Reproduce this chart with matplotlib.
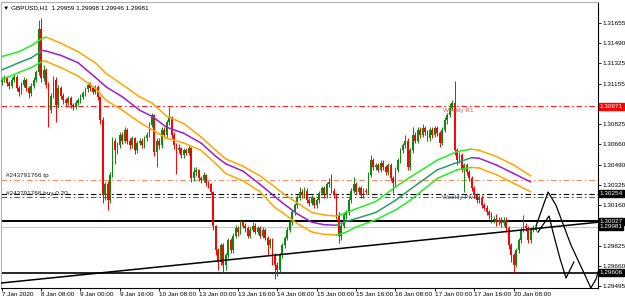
import matplotlib
matplotlib.use("Agg")
import matplotlib.pyplot as plt
import numpy as np

# GBPUSD H1 bars, 7 Jan 2020 .. 20 Jan 2020 (open of each bar = previous close)
first_open = 1.3117
closes = [
    1.3119, 1.3120, 1.3116, 1.3114, 1.3119, 1.3121, 1.3112, 1.3109, 1.3115, 1.3119, 1.3112, 1.3108,
    1.3114, 1.3119, 1.3125, 1.3161, 1.3120, 1.3127, 1.3115, 1.3094, 1.3106, 1.3119, 1.3098, 1.3112,
    1.3106, 1.3102, 1.3100, 1.3104, 1.3098, 1.3097, 1.3100, 1.3102, 1.3105, 1.3108, 1.3111, 1.3115,
    1.3112, 1.3109, 1.3113, 1.3105, 1.3086, 1.3024, 1.3033, 1.3020, 1.3041, 1.3069, 1.3061, 1.3065,
    1.3074, 1.3069, 1.3078, 1.3069, 1.3065, 1.3071, 1.3061, 1.3067, 1.3069, 1.3065, 1.3071, 1.3074,
    1.3082, 1.3090, 1.3060, 1.3069, 1.3065, 1.3078, 1.3074, 1.3084, 1.3088, 1.3074, 1.3065, 1.3061,
    1.3063, 1.3057, 1.3061, 1.3059, 1.3063, 1.3038, 1.3043, 1.3045, 1.3038, 1.3037, 1.3041, 1.3034,
    1.3033, 1.3027, 1.2999, 1.2979, 1.2969, 1.2983, 1.2967, 1.2975, 1.2987, 1.2979, 1.2991, 1.2997,
    1.2994, 1.3002, 1.2999, 1.2997, 1.2991, 1.2996, 1.2999, 1.2994, 1.2997, 1.2991, 1.2996, 1.2989,
    1.2983, 1.2987, 1.2975, 1.2967, 1.2963, 1.2975, 1.2983, 1.2989, 1.2996, 1.3002, 1.3010, 1.3016,
    1.3022, 1.3027, 1.3024, 1.3028, 1.3020, 1.3018, 1.3022, 1.3016, 1.3020, 1.3026, 1.3030, 1.3024,
    1.3033, 1.3035, 1.3028, 1.3024, 1.3008, 1.2991, 1.2999, 1.3008, 1.3010, 1.3020, 1.3028, 1.3033,
    1.3027, 1.3030, 1.3024, 1.3028, 1.3027, 1.3041, 1.3053, 1.3047, 1.3049, 1.3045, 1.3051, 1.3047,
    1.3043, 1.3049, 1.3038, 1.3034, 1.3045, 1.3053, 1.3061, 1.3065, 1.3069, 1.3047, 1.3061, 1.3074,
    1.3069, 1.3078, 1.3074, 1.3079, 1.3076, 1.3071, 1.3078, 1.3074, 1.3079, 1.3075, 1.3067, 1.3078,
    1.3086, 1.3090, 1.3096, 1.3100, 1.3061, 1.3053, 1.3057, 1.3045, 1.3049, 1.3043, 1.3038, 1.3030,
    1.3024, 1.3020, 1.3022, 1.3016, 1.3014, 1.3010, 1.3008, 1.3004, 1.3005, 1.3002, 1.3004, 1.3001,
    1.3004, 1.2997, 1.2983, 1.2975, 1.2967, 1.2979, 1.2987, 1.2996, 1.2999, 1.2997, 1.2987, 1.2996,
    1.29959, 1.29981,
]
highs = [
    1.3121, 1.3123, 1.3122, 1.3118, 1.3121, 1.3124, 1.3123, 1.3114, 1.3117, 1.3121, 1.3120, 1.3114,
    1.3116, 1.3121, 1.3127, 1.3168, 1.3170, 1.3131, 1.3129, 1.3117, 1.3108, 1.3122, 1.3121, 1.3115,
    1.3114, 1.3108, 1.3104, 1.3106, 1.3106, 1.3100, 1.3102, 1.3104, 1.3107, 1.3110, 1.3113, 1.3117,
    1.3117, 1.3114, 1.3115, 1.3115, 1.3106, 1.3088, 1.3035, 1.3036, 1.3043, 1.3072, 1.3071, 1.3068,
    1.3076, 1.3076, 1.3080, 1.3079, 1.3071, 1.3073, 1.3072, 1.3069, 1.3071, 1.3071, 1.3073, 1.3076,
    1.3084, 1.3092, 1.3091, 1.3071, 1.3071, 1.3080, 1.3080, 1.3086, 1.3097, 1.3089, 1.3076, 1.3067,
    1.3066, 1.3064, 1.3063, 1.3063, 1.3065, 1.3064, 1.3047, 1.3047, 1.3046, 1.3040, 1.3043, 1.3042,
    1.3036, 1.3034, 1.3028, 1.3000, 1.2981, 1.2985, 1.2985, 1.2977, 1.2989, 1.2989, 1.2993, 1.3000,
    1.2999, 1.3004, 1.3004, 1.3001, 1.2999, 1.2998, 1.3002, 1.3001, 1.2999, 1.2999, 1.2998, 1.2997,
    1.2991, 1.2989, 1.2989, 1.2977, 1.2969, 1.2977, 1.2985, 1.2991, 1.2998, 1.3004, 1.3012, 1.3018,
    1.3024, 1.3031, 1.3029, 1.3031, 1.3030, 1.3022, 1.3024, 1.3023, 1.3022, 1.3028, 1.3032, 1.3032,
    1.3035, 1.3038, 1.3042, 1.3030, 1.3026, 1.3010, 1.3001, 1.3010, 1.3012, 1.3022, 1.3030, 1.3039,
    1.3035, 1.3032, 1.3032, 1.3030, 1.3030, 1.3043, 1.3057, 1.3055, 1.3051, 1.3051, 1.3053, 1.3053,
    1.3049, 1.3051, 1.3051, 1.3040, 1.3047, 1.3055, 1.3063, 1.3067, 1.3074, 1.3071, 1.3063, 1.3080,
    1.3076, 1.3080, 1.3080, 1.3083, 1.3081, 1.3078, 1.3080, 1.3080, 1.3081, 1.3081, 1.3077, 1.3080,
    1.3088, 1.3092, 1.3100, 1.3102, 1.3118, 1.3063, 1.3060, 1.3059, 1.3051, 1.3051, 1.3045, 1.3040,
    1.3032, 1.3026, 1.3024, 1.3024, 1.3018, 1.3016, 1.3012, 1.3010, 1.3007, 1.3009, 1.3006, 1.3006,
    1.3006, 1.3006, 1.2999, 1.2985, 1.2977, 1.2981, 1.2989, 1.2998, 1.3008, 1.3001, 1.2999, 1.2998,
    1.3000, 1.29998,
]
lows = [
    1.3115, 1.3117, 1.3114, 1.3111, 1.3112, 1.3117, 1.3110, 1.3106, 1.3107, 1.3113, 1.3110, 1.3104,
    1.3106, 1.3112, 1.3117, 1.3123, 1.3117, 1.3118, 1.3112, 1.3080, 1.3092, 1.3104, 1.3084, 1.3096,
    1.3103, 1.3099, 1.3097, 1.3098, 1.3096, 1.3094, 1.3095, 1.3098, 1.3100, 1.3103, 1.3106, 1.3109,
    1.3110, 1.3107, 1.3107, 1.3102, 1.3083, 1.3018, 1.3020, 1.3012, 1.3018, 1.3039, 1.3050, 1.3058,
    1.3063, 1.3066, 1.3067, 1.3066, 1.3062, 1.3063, 1.3058, 1.3059, 1.3065, 1.3063, 1.3063, 1.3069,
    1.3072, 1.3080, 1.3056, 1.3047, 1.3062, 1.3063, 1.3071, 1.3072, 1.3082, 1.3071, 1.3062, 1.3042,
    1.3059, 1.3055, 1.3055, 1.3057, 1.3057, 1.3035, 1.3036, 1.3040, 1.3036, 1.3034, 1.3035, 1.3032,
    1.3030, 1.3025, 1.2996, 1.2975, 1.2963, 1.2967, 1.2961, 1.2963, 1.2973, 1.2977, 1.2977, 1.2989,
    1.2991, 1.2992, 1.2997, 1.2994, 1.2989, 1.2989, 1.2994, 1.2992, 1.2992, 1.2989, 1.2989, 1.2987,
    1.2975, 1.2981, 1.2967, 1.2955, 1.2958, 1.2961, 1.2973, 1.2981, 1.2987, 1.2994, 1.3000, 1.3008,
    1.3014, 1.3020, 1.3022, 1.3022, 1.3018, 1.3015, 1.3016, 1.3014, 1.3014, 1.3018, 1.3024, 1.3022,
    1.3022, 1.3031, 1.3026, 1.3022, 1.3005, 1.2985, 1.2987, 1.2997, 1.3005, 1.3008, 1.3018, 1.3026,
    1.3025, 1.3025, 1.3022, 1.3022, 1.3025, 1.3025, 1.3039, 1.3045, 1.3045, 1.3043, 1.3043, 1.3045,
    1.3041, 1.3041, 1.3036, 1.3026, 1.3032, 1.3043, 1.3051, 1.3059, 1.3063, 1.3045, 1.3045, 1.3059,
    1.3067, 1.3067, 1.3071, 1.3072, 1.3074, 1.3069, 1.3069, 1.3071, 1.3072, 1.3073, 1.3064, 1.3065,
    1.3076, 1.3083, 1.3088, 1.3094, 1.3057, 1.3049, 1.3051, 1.3043, 1.3027, 1.3041, 1.3036, 1.3028,
    1.3022, 1.3018, 1.3018, 1.3014, 1.3012, 1.3008, 1.3005, 1.3001, 1.3001, 1.2999, 1.3000, 1.2998,
    1.2999, 1.2994, 1.2980, 1.2969, 1.2961, 1.2965, 1.2977, 1.2985, 1.2994, 1.2995, 1.2985, 1.2985,
    1.2994, 1.29946,
]

# moving average envelope (read at these bar positions)
ma_x = [0, 7, 12, 16.5, 18, 24, 31, 38, 42.5, 49, 56, 61, 67, 74, 81, 87, 91, 98, 105,
        111, 114, 120, 126, 131, 136, 139, 144, 152, 160, 166, 177, 185, 191, 194, 201, 208, 215]
ma_upper = [1.3138, 1.3142, 1.3147, 1.3153, 1.3154, 1.3149, 1.3142, 1.3133, 1.3124, 1.3115,
            1.3105, 1.3100, 1.3089, 1.3083, 1.3072, 1.3061, 1.3054, 1.3048, 1.3040, 1.3031,
            1.3026, 1.3018, 1.3010, 1.3008, 1.3007, 1.3009, 1.3013, 1.3019, 1.3031, 1.3039,
            1.3053, 1.3060, 1.3062, 1.3061, 1.3056, 1.3049, 1.3040]
ma_mid = [1.3127, 1.3133, 1.3137, 1.3143, 1.31425, 1.3139, 1.3133, 1.3121, 1.3113, 1.3105,
          1.3094, 1.3089, 1.3080, 1.3075, 1.3067, 1.3056, 1.3050, 1.3044, 1.3033, 1.3023,
          1.3018, 1.3009, 1.3002, 1.3000, 1.29995, 1.3002, 1.3005, 1.3010, 1.3020, 1.3029,
          1.3045, 1.3051, 1.3055, 1.30545, 1.3049, 1.3042, 1.3035]
ma_lower = [1.3119, 1.3125, 1.3129, 1.3134, 1.3134, 1.3129, 1.3122, 1.3112, 1.3102, 1.3094,
            1.3084, 1.3078, 1.3071, 1.3067, 1.3061, 1.3050, 1.3042, 1.3036, 1.3027, 1.3014,
            1.3010, 1.3001, 1.2994, 1.2992, 1.29915, 1.2993, 1.2998, 1.3004, 1.3012, 1.3020,
            1.3038, 1.3045, 1.3047, 1.30465, 1.3041, 1.3034, 1.3027]

# levels
weekly_r1 = 1.30971
tp_level = 1.30366
buy_level = 1.30254
weekly_pivot = 1.30227
res_level = 1.30027
bid_level = 1.29981
sup_level = 1.29606
trend_x = [-0.7, 242.3]
trend_y = [1.2952, 1.3002]

# hand drawn arrows
draw_a_x = [217.1, 222.0, 225.2, 231.3, 237.0, 239.4, 241.5, 243.5]
draw_a_y = [1.29989, 1.30268, 1.30161, 1.29833, 1.29586, 1.29480, 1.29554, 1.29693]
draw_b_x = [217.9, 222.4, 224.0, 226.8, 229.3, 230.5, 232.5]
draw_b_y = [1.29939, 1.30071, 1.29939, 1.29726, 1.29562, 1.29611, 1.29693]

price_ticks = [1.31655, 1.31490, 1.31325, 1.31155, 1.30825, 1.30660, 1.30490,
               1.30325, 1.30160, 1.29825, 1.29660, 1.29495]
time_ticks = [0, 16, 32, 48, 64, 80, 96, 112, 128, 144, 160, 176, 192, 208]
time_labels = ["7 Jan 2020", "8 Jan 08:00", "9 Jan 00:00", "9 Jan 16:00", "10 Jan 08:00",
               "13 Jan 00:00", "13 Jan 16:00", "14 Jan 08:00", "15 Jan 00:00", "15 Jan 16:00",
               "16 Jan 08:00", "17 Jan 00:00", "17 Jan 16:00", "20 Jan 08:00"]

plt.rcParams['font.family'] = ['Liberation Sans', 'DejaVu Sans']
fs = 4.6
fig = plt.figure(figsize=(6.25, 3.03), dpi=100)
ax = fig.add_axes([1 / 625, 15 / 303, 597 / 625, 286 / 303])

# candles
closes = np.array(closes)
opens = np.concatenate([[first_open], closes[:-1]])
idx = np.arange(len(closes))
up = closes >= opens
cols = np.where(up, "#0a8a0a", "#ff0000")
body = np.abs(closes - opens)
body = np.where(body < 0.00002, 0.00002, body)
ax.vlines(idx, lows, highs, colors=cols, lw=0.7, zorder=3)
ax.bar(idx, body, bottom=np.minimum(opens, closes), width=0.72, color=cols, lw=0, zorder=3)


def draw_ma(xs, ys, up_c, down_c):
    for k in range(len(xs) - 1):
        c = up_c if ys[k + 1] > ys[k] else down_c
        ax.plot(xs[k:k + 2], ys[k:k + 2], color=c, lw=1.1, solid_capstyle='round', zorder=4)


draw_ma(ma_x, ma_upper, "#22ee22", "#ffa500")
draw_ma(ma_x, ma_lower, "#22ee22", "#ffa500")
draw_ma(ma_x, ma_mid, "#2a9d6a", "#9a20d0")

dd = (0, (5, 2.5, 1.5, 2.5))
ax.axhline(weekly_r1, color="#ff2020", lw=0.8, ls=dd, zorder=2)
ax.axhline(tp_level, color="#ff8c60", lw=0.8, ls=dd, zorder=2)
ax.axhline(buy_level, color="black", lw=0.8, ls=dd, zorder=2)
ax.axhline(weekly_pivot, color="#1a8a1a", lw=0.8, ls=dd, zorder=2)
ax.axhline(res_level, color="black", lw=1.4, zorder=2)
ax.axhline(bid_level, color="#c8c8c8", lw=0.8, zorder=1)
ax.axhline(sup_level, color="black", lw=1.2, zorder=2)
ax.plot(trend_x, trend_y, color="black", lw=1.1, zorder=5)

ax.plot(draw_a_x, draw_a_y, color="black", lw=0.9, zorder=5)
ax.plot(draw_b_x, draw_b_y, color="black", lw=0.9, zorder=5)

# texts
ax.text(1.8, 1.3040, "#243791766 tp", fontsize=fs, va='center', color="#202020")
ax.text(1.8, buy_level, "#243791766 buy 0.20", fontsize=fs, va='center', color="#202020")
ax.text(179.5, 1.3094, "Weekly R1", fontsize=fs, va='center', color="#e05050")
ax.text(178.8, weekly_pivot, "Weekly Pivot", fontsize=fs, va='center', color="#404060")
ax.text(0.004, 0.979, "\u25bc GBPUSD,H1  1.29959 1.29998 1.29946 1.29981",
        transform=ax.transAxes, fontsize=fs, va='center', color="black")

ax.set_xlim(-0.3, 242.3)
ax.set_ylim(1.29480, 1.31828)

ax.yaxis.tick_right()
ax.set_yticks(price_ticks)
ax.set_yticklabels(["%.5f" % p for p in price_ticks])
ax.set_xticks(time_ticks)
ax.set_xticklabels(time_labels, ha='left')
ax.tick_params(axis='both', labelsize=fs, length=2.2, width=0.6, pad=0.8, colors="black")

for s in ['top', 'left']:
    ax.spines[s].set_color("#b0b0b0")
    ax.spines[s].set_linewidth(0.8)
for s in ['right', 'bottom']:
    ax.spines[s].set_color("black")
    ax.spines[s].set_linewidth(0.8)

# price boxes on the right axis
boxes = [(weekly_r1, "#ff0000"), (buy_level, "black"), (res_level, "black"),
         (bid_level, "black"), (sup_level, "black")]
for p, c in boxes:
    ax.annotate("%.5f" % p, xy=(1.0, p), xycoords=('axes fraction', 'data'),
                xytext=(1.2, 0), textcoords='offset points', fontsize=fs, color="white",
                va='center', ha='left', annotation_clip=False,
                bbox=dict(boxstyle='square,pad=0.12', fc=c, ec=c))

fig.savefig("out.png", dpi=100)
